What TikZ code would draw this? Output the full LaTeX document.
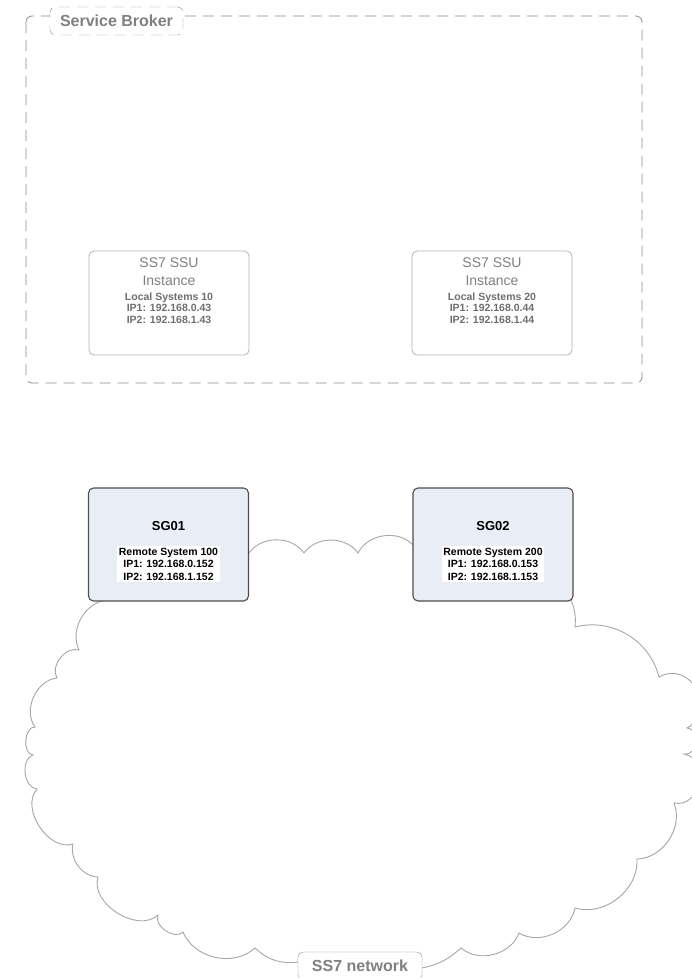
\documentclass[tikz,border=0pt]{standalone}
\usepackage{fontspec}
\setmainfont{Liberation Sans}
\usetikzlibrary{positioning}
\definecolor{framegray}{HTML}{8C8C8C}
\definecolor{textgray}{HTML}{808080}
\definecolor{smallgray}{HTML}{6E6E6E}
\definecolor{ssuline}{HTML}{B3B3B3}
\definecolor{sgfill}{HTML}{E9EDF6}
\definecolor{sgline}{HTML}{4D4D4D}
\definecolor{cloudline}{HTML}{A6A6A6}

\begin{document}
\begin{tikzpicture}[x=1pt,y=1pt,
  ssubox/.style={draw=ssuline,rounded corners=5pt,minimum width=160pt,minimum height=104pt,line width=0.8pt},
  sgbox/.style={draw=sgline,fill=sgfill,rounded corners=5pt,minimum width=160pt,minimum height=113pt,line width=1.1pt},
  tag/.style={draw=framegray,rounded corners=5pt,fill=white,text=textgray,minimum height=28pt,
    font=\fontsize{16}{19}\selectfont\bfseries},
  dashes/.style={dash pattern=on 11pt off 7pt},
  ssutitle/.style={align=center,text=textgray,font=\fontsize{14}{18}\selectfont},
  ssuinfo/.style={align=center,text=smallgray,font=\fontsize{10.5}{11.5}\selectfont\bfseries},
  sgtitle/.style={font=\fontsize{13}{15}\selectfont\bfseries},
  sginfo/.style={align=center,fill=white,inner sep=1.5pt,font=\fontsize{10.5}{12.5}\selectfont\bfseries},
  bump/.style={bend left=#1}, bump/.default=55]
  \useasboundingbox (0,0) rectangle (692,-978);
  \clip (0,0) rectangle (692,-978);

  % service broker frame
  \draw[framegray,dashes,rounded corners=6pt,line width=0.8pt] (26,-16) rectangle (642,-383);
  \node[tag,dashes,minimum width=133pt] (broker) at (116.5,-21) {Service Broker};

  % SSU instances
  \foreach \x/\n/\ip in {169/10/43,492/20/44}{
    \node[ssubox] (ssu\n) at (\x,-303) {};
    \node[ssutitle] (ssu\n t) at (\x,-272) {SS7 SSU\\Instance};
    \node[ssuinfo] (ssu\n i) at (\x,-308) {Local Systems \n\\IP1: 192.168.0.\ip\\IP2: 192.168.1.\ip};
  }

  % SS7 network cloud
  \draw[cloudline,line width=0.9pt]
    (249,-553) to[bump] (304,-553) to[bump] (358,-553) to[bump] (413,-545)
    -- (570,-598) to[bump=15] (575,-627) to[bump=45] (659,-677)
    to[bump=90,looseness=1.6] (687,-728) to[bump=90,looseness=1.4] (684,-754)
    to[bump=90,looseness=1.4] (674,-803)
    to[bump=55] (637,-859) to[bump=55] (575,-908) to[bump=55] (519,-933)
    to[bump=55] (461,-948) to[bump=15] (422,-968)
    -- (298,-962) to[bump=25] (255,-948) to[bump=55] (183,-932)
    to[bump=80] (158,-915) to[bump=75] (98,-877) to[bump=50] (73,-844)
    to[bump=75] (37,-789) to[bump=80] (33,-755) to[bump=90] (35,-727)
    to[bump=60] (57,-678) to[bump=70] (79,-650) to[bump=55] (107,-600) -- cycle;

  % signalling gateways
  \foreach \x/\n/\sys/\ip in {168.5/01/100/152,493/02/200/153}{
    \node[sgbox] (sg\n) at (\x,-544.5) {};
    \node[sgtitle] (sg\n t) at (\x,-526) {SG\n};
    \node[sginfo] (sg\n i) at (\x,-564) {Remote System \sys\\IP1: 192.168.0.\ip\\IP2: 192.168.1.\ip};
  }

  \node[tag,minimum width=124pt] (ss7net) at (360,-966) {SS7 network};
\end{tikzpicture}
\end{document}
